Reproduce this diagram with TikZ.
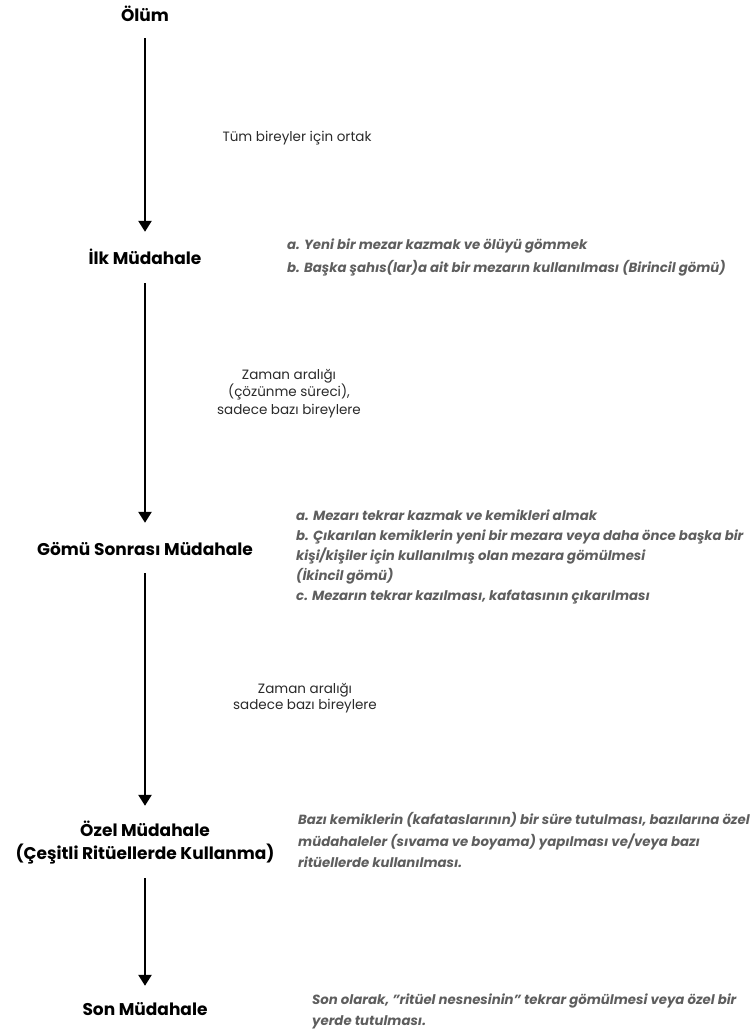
\documentclass[tikz,border=0pt]{standalone}
\usepackage{fontspec}
\setmainfont{Poppins}
\usetikzlibrary{arrows.meta}
\definecolor{desccol}{HTML}{5E5E5E}
\definecolor{notecol}{HTML}{2A2A2A}
\begin{document}
\begin{tikzpicture}[x=1pt,y=-1pt,
  title/.style={font=\fontsize{17}{23}\selectfont\bfseries, align=center, inner sep=0pt, text height=12.5pt, text depth=3.5pt},
  note/.style={font=\fontsize{13.5}{17.5}\selectfont, text=notecol, align=center, inner sep=0pt},
  desc/.style={font=\fontsize{13.3}{20}\selectfont\bfseries\itshape, text=desccol, align=left, anchor=north west, inner sep=0pt, text height=9pt},
  flow/.style={line width=2.5pt, -{Triangle[width=13pt,length=11pt]}}]
\useasboundingbox (0,0) rectangle (750,1032);

\node[title] (t0) at (145,17.5) {Ölüm};
\node[title] (t1) at (145,259.5) {İlk Müdahale};
\node[title] (t2) at (145,550.5) {Gömü Sonrası Müdahale};
\node[title, text height=35.5pt] (t3) at (145,843) {Özel Müdahale\\(Çeşitli Ritüellerde Kullanma)};
\node[title] (t4) at (145,1010.5) {Son Müdahale};

\draw[flow, shorten <=12.5pt, shorten >=19.5pt] (t0) -- (t1);
\draw[flow, shorten <=15.5pt, shorten >=19.5pt] (t1) -- (t2);
\draw[flow, shorten <=14.5pt, shorten >=17.5pt] (t2) -- (t3);
\draw[flow, shorten <=15.5pt, shorten >=16.5pt] (t3) -- (t4);

\node[note] (n1) at (297,138) {Tüm bireyler için ortak};
\node[note] (n2) at (289,393.5) {Zaman aralığı\\(çözünme süreci),\\sadece bazı bireylere};
\node[note, font=\fontsize{13.5}{16}\selectfont] (n3) at (305,698) {Zaman aralığı\\sadece bazı bireylere};

\node[desc, font=\fontsize{13.3}{23}\selectfont\bfseries\itshape] (d1) at (287,263.5) {a. Yeni bir mezar kazmak ve ölüyü gömmek\\b. Başka şahıs(lar)a ait bir mezarın kullanılması (Birincil gömü)};
\node[desc] (d2) at (296,591.5) {a. Mezarı tekrar kazmak ve kemikleri almak\\b. Çıkarılan kemiklerin yeni bir mezara veya daha önce başka bir\\kişi/kişiler için kullanılmış olan mezara gömülmesi\\(İkincil gömü)\\c. Mezarın tekrar kazılması, kafatasının çıkarılması};
\node[desc, font=\fontsize{13.3}{21.5}\selectfont\bfseries\itshape] (d3) at (298,858.5) {Bazı kemiklerin (kafataslarının) bir süre tutulması, bazılarına özel\\müdahaleler (sıvama ve boyama) yapılması ve/veya bazı\\ritüellerde kullanılması.};
\node[desc, font=\fontsize{13.3}{21}\selectfont\bfseries\itshape] (d4) at (312,1016.5) {Son olarak, "ritüel nesnesinin" tekrar gömülmesi veya özel bir\\yerde tutulması.};
\end{tikzpicture}
\end{document}
